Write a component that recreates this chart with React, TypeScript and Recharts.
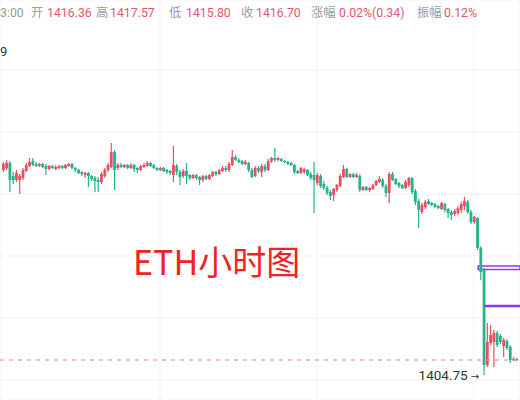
import React from "react";
import {
  ComposedChart,
  Bar,
  XAxis,
  YAxis,
  CartesianGrid,
  ReferenceLine,
  ReferenceArea,
  ReferenceDot,
} from "recharts";

// hourly candles, [open, high, low, close]
const ohlc: number[][] = [
  [1415.0, 1415.4, 1414.9, 1415.3], [1415.1, 1415.5, 1415.0, 1415.35], [1415.35, 1415.45, 1413.9, 1414.5],
  [1414.7, 1414.9, 1414.3, 1414.5], [1414.5, 1415.0, 1414.4, 1414.85], [1414.5, 1414.8, 1413.8, 1414.7],
  [1414.6, 1415.1, 1414.5, 1415.0], [1414.95, 1415.35, 1414.9, 1415.25], [1415.2, 1415.6, 1415.15, 1415.4],
  [1415.45, 1415.6, 1415.2, 1415.25], [1415.3, 1415.4, 1415.15, 1415.2], [1415.2, 1415.35, 1415.15, 1415.3],
  [1415.3, 1415.35, 1415.1, 1415.15], [1415.2, 1415.3, 1414.75, 1415.05], [1415.05, 1415.25, 1415.0, 1415.2],
  [1415.2, 1415.25, 1415.05, 1415.1], [1415.05, 1415.25, 1415.0, 1415.15], [1415.1, 1415.25, 1415.05, 1415.2],
  [1415.2, 1415.25, 1415.05, 1415.1], [1415.1, 1415.3, 1415.05, 1415.25], [1415.2, 1415.35, 1415.15, 1415.3],
  [1415.3, 1415.35, 1415.05, 1415.1], [1415.1, 1415.15, 1414.9, 1415.0], [1415.0, 1415.05, 1414.8, 1414.85],
  [1414.9, 1414.95, 1414.7, 1414.8], [1414.75, 1414.9, 1414.6, 1414.85], [1414.85, 1414.9, 1414.15, 1414.7],
  [1414.7, 1414.75, 1414.45, 1414.55], [1414.6, 1414.7, 1413.9, 1414.45], [1414.5, 1414.65, 1413.9, 1414.4],
  [1414.4, 1414.9, 1414.3, 1414.8], [1414.7, 1415.1, 1414.6, 1415.0], [1415.0, 1415.35, 1414.9, 1415.25],
  [1415.15, 1416.35, 1415.1, 1415.9], [1415.9, 1416.0, 1414.0, 1415.0], [1415.1, 1415.35, 1415.0, 1415.25],
  [1415.25, 1415.35, 1415.1, 1415.15], [1415.15, 1415.3, 1415.1, 1415.25], [1415.25, 1415.3, 1415.05, 1415.1],
  [1415.1, 1415.35, 1415.05, 1415.25], [1415.25, 1415.3, 1414.9, 1415.05], [1415.1, 1415.15, 1414.85, 1415.0],
  [1415.0, 1415.25, 1414.95, 1415.2], [1415.15, 1415.35, 1415.1, 1415.25], [1415.2, 1415.45, 1415.15, 1415.35],
  [1415.35, 1415.4, 1415.15, 1415.2], [1415.25, 1415.3, 1415.05, 1415.1], [1415.1, 1415.15, 1414.95, 1415.0],
  [1415.0, 1415.15, 1414.95, 1415.1], [1415.1, 1415.15, 1414.9, 1414.95], [1415.0, 1415.05, 1414.8, 1414.9],
  [1414.95, 1415.0, 1414.75, 1414.85], [1414.75, 1416.2, 1414.4, 1415.25], [1415.2, 1415.3, 1414.75, 1414.9],
  [1414.9, 1415.0, 1414.25, 1414.65], [1414.7, 1415.05, 1414.6, 1414.95], [1414.95, 1415.35, 1414.3, 1414.7],
  [1414.75, 1414.8, 1414.5, 1414.6], [1414.6, 1414.8, 1414.55, 1414.75], [1414.75, 1414.8, 1414.5, 1414.6],
  [1414.65, 1414.7, 1414.25, 1414.5], [1414.5, 1414.75, 1414.4, 1414.7], [1414.7, 1414.75, 1414.5, 1414.55],
  [1414.55, 1414.8, 1414.5, 1414.75], [1414.7, 1414.95, 1414.65, 1414.9], [1414.9, 1414.95, 1414.7, 1414.8],
  [1414.8, 1415.05, 1414.75, 1415.0], [1414.95, 1415.2, 1414.9, 1415.1], [1415.1, 1415.2, 1414.9, 1415.0],
  [1415.0, 1415.4, 1414.9, 1415.3], [1415.25, 1416.0, 1415.2, 1415.65], [1415.65, 1415.75, 1415.45, 1415.5],
  [1415.5, 1415.6, 1415.35, 1415.4], [1415.45, 1415.5, 1415.25, 1415.3], [1415.3, 1415.5, 1415.25, 1415.4],
  [1415.35, 1415.4, 1414.9, 1415.0], [1415.0, 1415.1, 1414.6, 1414.65], [1414.7, 1415.2, 1414.65, 1415.1],
  [1415.1, 1415.2, 1414.85, 1414.95], [1414.9, 1415.3, 1414.65, 1415.2], [1415.2, 1415.3, 1414.9, 1415.0],
  [1415.0, 1415.55, 1414.95, 1415.45], [1415.45, 1415.65, 1415.35, 1415.6], [1415.6, 1416.1, 1415.4, 1415.5],
  [1415.5, 1415.65, 1415.45, 1415.6], [1415.55, 1415.6, 1415.4, 1415.45], [1415.45, 1415.5, 1415.35, 1415.4],
  [1415.4, 1415.45, 1415.25, 1415.3], [1415.35, 1415.4, 1415.2, 1415.25], [1415.25, 1415.3, 1414.8, 1414.9],
  [1414.95, 1415.0, 1414.8, 1414.85], [1414.85, 1415.15, 1414.8, 1415.1], [1414.9, 1415.1, 1414.8, 1415.05],
  [1415.0, 1415.05, 1414.7, 1414.75], [1414.8, 1414.9, 1414.5, 1414.6], [1414.75, 1415.4, 1412.85, 1414.5],
  [1414.35, 1414.85, 1414.25, 1414.75], [1414.7, 1414.8, 1414.1, 1414.2], [1414.3, 1414.45, 1414.0, 1414.1],
  [1414.1, 1414.2, 1413.75, 1413.85], [1413.9, 1414.0, 1413.5, 1413.7], [1413.75, 1414.1, 1413.45, 1414.05],
  [1414.0, 1414.3, 1413.9, 1414.25], [1414.2, 1414.8, 1414.15, 1414.7], [1414.65, 1415.25, 1414.6, 1415.05],
  [1415.05, 1415.1, 1414.6, 1414.65], [1414.65, 1414.85, 1414.6, 1414.8], [1414.8, 1414.85, 1414.6, 1414.65],
  [1414.65, 1414.85, 1414.6, 1414.75], [1414.7, 1414.8, 1413.9, 1414.0], [1414.0, 1414.2, 1413.95, 1414.15],
  [1414.15, 1414.2, 1413.95, 1414.0], [1414.0, 1414.15, 1413.9, 1414.1], [1414.05, 1414.3, 1414.0, 1414.25],
  [1414.25, 1414.5, 1414.2, 1414.45], [1414.4, 1414.7, 1414.35, 1414.55], [1414.5, 1414.6, 1414.1, 1414.2],
  [1414.2, 1414.3, 1413.65, 1413.85], [1413.85, 1414.9, 1413.35, 1414.8], [1414.8, 1414.9, 1414.45, 1414.5],
  [1414.55, 1414.6, 1414.25, 1414.3], [1414.35, 1414.4, 1414.1, 1414.2], [1414.25, 1414.3, 1414.05, 1414.1],
  [1414.1, 1414.5, 1414.05, 1414.4], [1414.25, 1414.65, 1414.15, 1414.6], [1414.6, 1414.65, 1413.8, 1413.9],
  [1413.95, 1414.05, 1413.25, 1413.4], [1413.45, 1413.55, 1412.1, 1413.0], [1412.9, 1413.35, 1412.8, 1413.25],
  [1413.15, 1413.5, 1413.05, 1413.4], [1413.45, 1413.55, 1413.25, 1413.3], [1413.35, 1413.4, 1413.2, 1413.25],
  [1413.3, 1413.35, 1413.1, 1413.15], [1413.2, 1413.25, 1413.05, 1413.1], [1413.05, 1413.4, 1413.0, 1413.35],
  [1413.3, 1413.35, 1412.9, 1413.0], [1413.05, 1413.1, 1412.6, 1412.85], [1412.9, 1413.0, 1412.5, 1412.75],
  [1412.8, 1413.05, 1412.7, 1412.95], [1412.85, 1413.2, 1412.75, 1413.1], [1413.0, 1413.4, 1412.85, 1413.3],
  [1413.2, 1413.65, 1413.0, 1413.45], [1413.4, 1413.5, 1412.8, 1412.9], [1412.9, 1413.0, 1412.3, 1412.4],
  [1412.4, 1412.7, 1412.3, 1412.65], [1412.6, 1412.65, 1411.0, 1411.1], [1411.1, 1411.2, 1409.5, 1409.9],
  [1410.0, 1410.1, 1404.75, 1405.25], [1405.25, 1407.35, 1405.15, 1406.4], [1406.35, 1407.25, 1406.25, 1406.75],
  [1406.4, 1407.0, 1405.15, 1406.85], [1406.85, 1406.95, 1406.15, 1406.25], [1406.7, 1406.8, 1406.3, 1406.4],
  [1406.2, 1406.6, 1405.65, 1406.5], [1406.45, 1406.55, 1406.0, 1406.1], [1406.15, 1406.25, 1405.35, 1405.5],
  [1405.5, 1405.65, 1405.45, 1405.55], [1405.55, 1405.6, 1405.45, 1405.5],
];

// price grid and visible window
const priceTicks = [1404.5, 1407.6, 1410.7, 1413.8, 1416.9, 1420.0];
const priceDomain = [1403.5, 1423.5];
const timeTicks = [0, 48, 96, 144];
const indexDomain = [-0.92, 158.1];

// drawn annotations (price levels)
const boxLevel = [1410.03, 1410.2];
const boxFrom = 145.3;
const lineLevel = 1408.2;
const lineFrom = 147.2;

// hovered-candle header
const headerItems: [string, string, number][] = [
  ["3:00", "label", 0],
  ["开", "label", 31],
  ["1416.36", "value", 47],
  ["高", "label", 96],
  ["1417.57", "value", 110],
  ["低", "label", 169],
  ["1415.80", "value", 186],
  ["收", "label", 241],
  ["1416.70", "value", 256],
  ["涨幅", "label", 311],
  ["0.02%(0.34)", "value", 339],
  ["振幅", "label", 417],
  ["0.12%", "value", 444],
];

const UP = "#eb4f5f";
const DOWN = "#22b48a";

const data = ohlc.map(([open, high, low, close], i) => ({ i, open, high, low, close }));
const lastClose = data[data.length - 1].close;
const lowest = data.reduce((a, b) => (b.low < a.low ? b : a));

const Candle = (props: any) => {
  const { x, y, width, height, payload } = props;
  if (!payload || x == null || y == null) return null;
  const { open, close, high, low } = payload;
  const color = close >= open ? UP : DOWN;
  const span = high - low;
  const py = (v: number) => (span === 0 ? y : y + ((high - v) / span) * height);
  const cx = x + width / 2;
  const top = py(Math.max(open, close));
  const bottom = py(Math.min(open, close));
  const bw = 2.8;
  return (
    <g>
      <rect x={cx - 0.6} y={y} width={1.2} height={Math.max(height, 1)} fill={color} />
      <rect x={cx - bw / 2} y={top} width={bw} height={Math.max(bottom - top, 1.2)} fill={color} />
    </g>
  );
};

const LowMarker = (props: any) => {
  const { cx, cy } = props;
  return (
    <g>
      <text x={cx - 16} y={cy + 5} textAnchor="end" fontSize={13.5} fill="#333" fontFamily="Roboto, sans-serif">
        {lowest.low.toFixed(2)}
      </text>
      <text x={cx - 13} y={cy + 5} fontSize={10} fill="#333" fontFamily="'DejaVu Sans', sans-serif">
        →
      </text>
    </g>
  );
};

const App = () => {
  return (
    <div style={{ position: "absolute", left: 0, top: 0, width: 520, height: 400, background: "#fff", overflow: "hidden" }}>
      <ComposedChart width={520} height={400} data={data} margin={{ top: 0, right: 0, bottom: 0, left: 0 }}>
        <CartesianGrid stroke="#f3f3f3" />
        <XAxis dataKey="i" type="number" domain={indexDomain} ticks={timeTicks} hide allowDataOverflow />
        <YAxis type="number" domain={priceDomain} ticks={priceTicks} hide allowDataOverflow />
        <ReferenceLine y={lastClose} stroke="#e8808e" strokeDasharray="4 5" strokeWidth={1} />
        <Bar
          dataKey={(d: any) => [d.low, d.high]}
          shape={<Candle />}
          barSize={2}
          isAnimationActive={false}
        />
        <ReferenceArea
          x1={boxFrom}
          x2={indexDomain[1]}
          y1={boxLevel[0]}
          y2={boxLevel[1]}
          fill="#ffffff"
          fillOpacity={0.7}
          stroke="#8a3cf0"
          strokeWidth={1.5}
          ifOverflow="visible"
        />
        <ReferenceLine
          segment={[{ x: lineFrom, y: lineLevel }, { x: indexDomain[1], y: lineLevel }]}
          stroke="#9236ee"
          strokeWidth={2.5}
          ifOverflow="visible"
        />
        <ReferenceDot x={lowest.i} y={lowest.low} r={0} shape={<LowMarker />} ifOverflow="visible" />
      </ComposedChart>
      <svg width={520} height={400} style={{ position: "absolute", left: 0, top: 0, pointerEvents: "none" }}>
        {headerItems.map(([t, kind, x]) => (
          <text
            key={t + x}
            x={x}
            y={17}
            fontSize={12.3}
            fill={kind === "value" ? "#e4566a" : "#9b9b9b"}
            fontFamily="Roboto, 'Noto Sans CJK SC', sans-serif"
          >
            {t}
          </text>
        ))}
        <text x={0} y={56} fontSize={13} fill="#333" fontFamily="Roboto, sans-serif">9</text>
        <text x={133} y={275} fontSize={34} fill="#f02222" fontFamily="'Noto Sans CJK SC', 'Noto Sans', sans-serif">
          ETH小时图
        </text>
      </svg>
    </div>
  );
};

export default App;
